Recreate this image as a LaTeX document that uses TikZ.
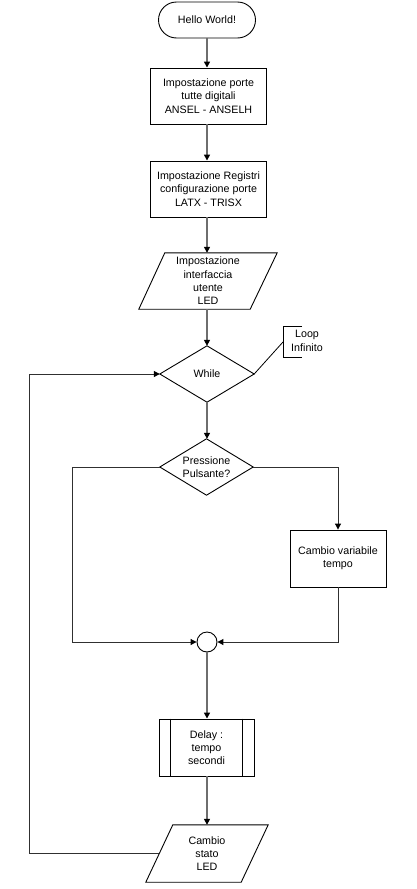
\documentclass[tikz,border=0pt]{standalone}
\usepackage{fontspec}
\setmainfont{Liberation Sans}
\usetikzlibrary{arrows.meta,calc}
\definecolor{conngray}{HTML}{6E6E6E}
\definecolor{thinline}{HTML}{303030}
\begin{document}
\begin{tikzpicture}[x=1pt,y=-1pt,
  txt/.style={font=\fontsize{10.7pt}{13.3pt}\selectfont, align=center, inner sep=0pt},
  shapebox/.style={txt, draw=black, line width=0.9pt},
  outline/.style={draw=black, line width=0.9pt},
  tip/.style={-{Triangle[length=6pt,width=6pt,color=black]}},
  mainconn/.style={draw=conngray, line width=1.8pt},
  sideconn/.style={draw=thinline, line width=1pt}]
\useasboundingbox (0,0) rectangle (416,889);

% nodes
\node[shapebox, rounded corners=18pt, minimum width=97, minimum height=36] (s) at (207,20) {Hello World!};
\node[shapebox, minimum width=116, minimum height=56] (b1) at (208.5,96) {Impostazione porte\\tutte digitali\\ANSEL - ANSELH};
\node[shapebox, minimum width=116, minimum height=56] (b2) at (208.5,189) {Impostazione Registri\\configurazione porte\\LATX - TRISX};
\node[txt, minimum width=138, minimum height=56] (p1) at (208,281) {Impostazione\\interfaccia\\utente\\LED};
\node[txt, minimum width=94, minimum height=56] (w) at (207,374) {While};
\node[txt, align=left, minimum width=93, minimum height=56] (q) at (206.5,467) {Pressione\\Pulsante?};
\node[shapebox, minimum width=96, minimum height=57] (cv) at (338,558.5) {Cambio variabile\\tempo};
\node[draw=black, line width=0.9pt, circle, minimum size=20, inner sep=0pt] (c) at (207,642) {};
\node[shapebox, minimum width=95, minimum height=57] (d) at (206.5,747.5) {Delay :\\tempo\\secondi};
\node[txt, minimum width=122, minimum height=57] (p2) at (207,853.5) {Cambio\\stato\\LED};
\node[txt] (li) at (307,341) {Loop\\Infinito};
\coordinate (br) at (283,342);
\coordinate (p2l) at ($(p2.west)+(13.5,0)$);

% shape outlines
\draw[outline] (p1.south west) -- ($(p1.north west)+(26,0)$) -- (p1.north east) -- ($(p1.south east)+(-27,0)$) -- cycle;
\draw[outline] (w.west) -- (w.north) -- (w.east) -- (w.south) -- cycle;
\draw[outline] (q.west) -- (q.north) -- (q.east) -- (q.south) -- cycle;
\draw[outline] ($(d.north west)+(12,0)$) -- ($(d.south west)+(12,0)$);
\draw[outline] ($(d.north east)+(-12,0)$) -- ($(d.south east)+(-12,0)$);
\draw[outline] (p2.south west) -- ($(p2.north west)+(27,0)$) -- (p2.north east) -- ($(p2.south east)+(-27,0)$) -- cycle;
\draw[outline] ($(br)+(19,-16)$) -- ($(br)+(0,-16)$) -- ($(br)+(0,15)$) -- ($(br)+(19,15)$);

% connectors
\draw[mainconn, tip] (s.south) -- (s.south |- b1.north);
\draw[mainconn, tip] (s.south |- b1.south) -- (s.south |- b2.north);
\draw[mainconn, tip] (s.south |- b2.south) -- (s.south |- p1.north);
\draw[mainconn, tip] (w |- p1.south) -- (w.north);
\draw[mainconn, tip] (w.south) -- (w.south |- q.north);
\draw[sideconn, tip] (q.west) -- ++(-87,0) |- (c.west);
\draw[sideconn, tip] (q.east) -| (cv.north);
\draw[sideconn, tip] (cv.south) |- (c.east);
\draw[mainconn, tip] (c.south) -- (c.south |- d.north);
\draw[mainconn, tip] (c.south |- d.south) -- (c.south |- p2.north);
\draw[sideconn, tip] (p2l) -- ++(-129.5,0) |- (w.west);
\draw[draw=black, line width=0.8pt] (br) -- (w.east);
\end{tikzpicture}
\end{document}
